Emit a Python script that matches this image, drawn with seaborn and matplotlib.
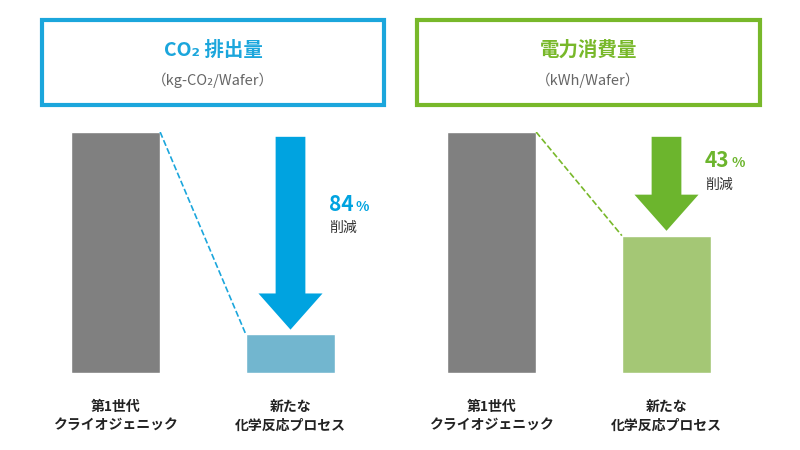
import matplotlib
matplotlib.use("Agg")
import matplotlib.pyplot as plt
import seaborn as sns
import pandas as pd
from matplotlib.patches import Rectangle

sns.set_theme(style="white")
plt.rcParams["font.family"] = ["Noto Sans CJK JP", "DejaVu Sans"]

# データ
categories = ["第1世代\nクライオジェニック", "新たな\n化学反応プロセス"]
co2_values = [100, 16]
power_values = [100, 57]
co2_cut = "84"
power_cut = "43"

panels = [
    dict(vals=co2_values, cut=co2_cut, title="CO₂ 排出量", unit="（kg-CO₂/Wafer）",
         edge="#1ba6dc", arrow="#00a3e0", bar2="#72b6cf", left=28, box=(42, 384)),
    dict(vals=power_values, cut=power_cut, title="電力消費量", unit="（kWh/Wafer）",
         edge="#78b82a", arrow="#6cb52d", bar2="#a4c775", left=404, box=(417, 760)),
]

W, H = 800, 450
fig = plt.figure(figsize=(8, 4.5), dpi=100)
bg = fig.add_axes([0, 0, 1, 1])
bg.set_xlim(0, W)
bg.set_ylim(H, 0)
bg.axis("off")

for p in panels:
    x0, x1 = p["box"]
    bg.add_patch(Rectangle((x0, 20), x1 - x0, 85, fill=False, edgecolor=p["edge"], lw=3))
    cx = (x0 + x1) / 2
    bg.text(cx, 50, p["title"], ha="center", va="center", fontsize=14, fontweight="bold", color=p["edge"])
    bg.text(cx, 80, p["unit"], ha="center", va="center", fontsize=10.5, color="#666666")

    ax = fig.add_axes([p["left"] / W, (H - 373) / H, 350 / W, 241 / H])
    df = pd.DataFrame({"cat": categories, "val": p["vals"]})
    sns.barplot(data=df, x="cat", y="val", hue="cat", palette=["#808080", p["bar2"]],
                width=0.51, legend=False, ax=ax, saturation=1)
    ax.set_xlim(-0.5, 1.5)
    ax.set_ylim(0, 100)
    ax.axis("off")
    hw = 0.255
    ax.plot([hw, 1 - hw], [p["vals"][0], p["vals"][1]], ls="--", color=p["edge"], lw=1.2)
    top = 98
    tip = p["vals"][1] + 2
    ax.arrow(1, top, 0, tip - top, width=0.17, head_width=0.366, head_length=15,
             length_includes_head=True, color=p["arrow"], lw=0)
    ty = (top + tip) / 2 + (10 if p["vals"][1] < 30 else 5) + 2
    if p["vals"][1] > 30:
        ty = 88
    ax.text(1.22, ty, p["cut"], fontsize=15, fontweight="bold", color=p["arrow"], va="center", ha="left")
    ax.text(1.37, ty - 1, "%", fontsize=10, fontweight="bold", color=p["arrow"], va="center", ha="left")
    ax.text(1.22, ty - 10, "削減", fontsize=10, color="#333333", va="center", ha="left")
    for i, c in enumerate(categories):
        ax.text(i, -11, c, ha="center", va="top", fontsize=10, color="#222222",
                fontweight="bold", linespacing=1.5)

fig.savefig("out.png", dpi=100)
